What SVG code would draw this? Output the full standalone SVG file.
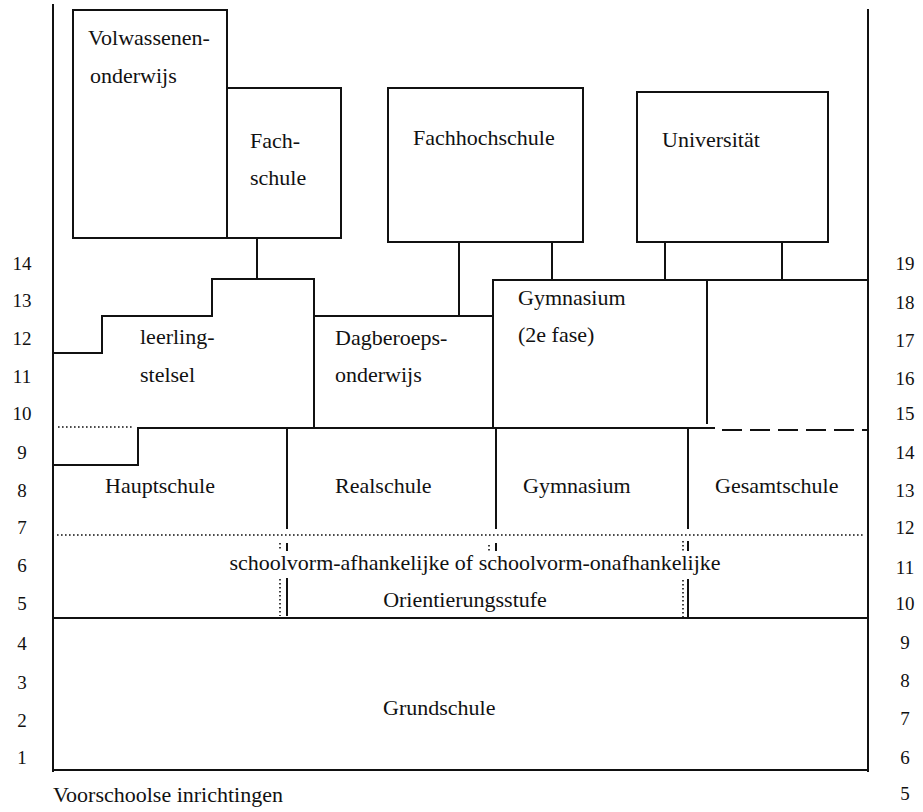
<svg xmlns="http://www.w3.org/2000/svg" width="923" height="812" viewBox="0 0 923 812">
<style>
.l{fill:none;stroke:#111;stroke-width:2;stroke-linecap:square}
.d{fill:none;stroke:#111;stroke-width:1.6;stroke-dasharray:1.6 2.4}
.ds{fill:none;stroke:#111;stroke-width:2;stroke-dasharray:20 8}
text{font-family:"Liberation Serif","Times New Roman",serif;font-size:22px;fill:#111}
.n{font-size:19px;text-anchor:middle}
</style>
<rect width="923" height="812" fill="#fff"/>
<g id="frame">
<line class="l" x1="53" y1="5" x2="53" y2="771"/>
<line class="l" x1="868" y1="10" x2="868" y2="771"/>
</g>
<g id="volwassenenonderwijs">
<rect class="l" x="73" y="10" width="154" height="228"/>
<text x="88" y="45">Volwassenen-</text>
<text x="90" y="83">onderwijs</text>
</g>
<g id="fachschule">
<rect class="l" x="227" y="88" width="114" height="150"/>
<text x="250" y="148">Fach-</text>
<text x="250" y="185">schule</text>
</g>
<g id="fachhochschule">
<rect class="l" x="388" y="88" width="195" height="154"/>
<text x="413" y="145">Fachhochschule</text>
</g>
<g id="universitaet">
<rect class="l" x="637" y="92" width="191" height="150"/>
<text x="662" y="147">Universität</text>
</g>
<g id="leerlingstelsel">
<polyline class="l" points="53,353 102,353 102,316 212,316 212,279 314,279 314,427"/>
<line class="d" x1="58" y1="427" x2="133" y2="427"/>
<text x="140" y="344">leerling-</text>
<text x="140" y="382">stelsel</text>
</g>
<g id="dagberoepsonderwijs">
<line class="l" x1="314" y1="316" x2="493" y2="316"/>
<text x="335" y="345">Dagberoeps-</text>
<text x="335" y="382">onderwijs</text>
</g>
<g id="gymnasium-2e-fase">
<polyline class="l" points="493,427 493,280 868,280"/>
<line class="l" x1="707" y1="281" x2="707" y2="423"/>
<line class="l" x1="138" y1="428" x2="714" y2="428"/>
<line class="ds" x1="722" y1="430" x2="868" y2="430"/>
<text x="518" y="305">Gymnasium</text>
<text x="518" y="342">(2e fase)</text>
</g>
<g id="hauptschule">
<polyline class="l" points="53,465 138,465 138,428"/>
<text x="105" y="493">Hauptschule</text>
</g>
<g id="realschule">
<line class="l" x1="287" y1="428" x2="287" y2="528"/>
<text x="335" y="493">Realschule</text>
</g>
<g id="gymnasium">
<line class="l" x1="496" y1="428" x2="496" y2="528"/>
<text x="523" y="493">Gymnasium</text>
</g>
<g id="gesamtschule">
<line class="l" x1="688" y1="430" x2="688" y2="528"/>
<text x="715" y="493">Gesamtschule</text>
</g>
<g id="orientierungsstufe">
<line class="d" x1="57" y1="535" x2="865" y2="535"/>
<line class="d" x1="280" y1="543" x2="280" y2="551"/>
<line class="l" x1="287" y1="544" x2="287" y2="550"/>
<line class="d" x1="280" y1="579" x2="280" y2="616"/>
<line class="l" x1="287" y1="579" x2="287" y2="615"/>
<line class="d" x1="489" y1="545" x2="489" y2="551"/>
<line class="l" x1="496" y1="544" x2="496" y2="550"/>
<line class="d" x1="683" y1="541" x2="683" y2="551"/>
<line class="l" x1="688" y1="542" x2="688" y2="550"/>
<line class="d" x1="683" y1="580" x2="683" y2="617"/>
<line class="l" x1="688" y1="580" x2="688" y2="616"/>
<text x="475" y="570" text-anchor="middle">schoolvorm-afhankelijke of schoolvorm-onafhankelijke</text>
<text x="465" y="607" text-anchor="middle">Orientierungsstufe</text>
</g>
<g id="grundschule">
<rect class="l" x="53" y="618" width="815" height="152"/>
<text x="383" y="715">Grundschule</text>
</g>
<g id="voorschoolse">
<text x="53" y="802">Voorschoolse inrichtingen</text>
</g>
<g id="connectors">
<line class="l" x1="257" y1="238" x2="257" y2="279"/>
<line class="l" x1="459" y1="242" x2="459" y2="316"/>
<line class="l" x1="552" y1="242" x2="552" y2="280"/>
<line class="l" x1="665" y1="242" x2="665" y2="280"/>
<line class="l" x1="782" y1="242" x2="782" y2="280"/>
</g>
<g id="age-scale">
<text class="n" x="22" y="270">14</text>
<text class="n" x="22" y="307">13</text>
<text class="n" x="22" y="345">12</text>
<text class="n" x="22" y="383">11</text>
<text class="n" x="22" y="420">10</text>
<text class="n" x="22" y="459">9</text>
<text class="n" x="22" y="497">8</text>
<text class="n" x="22" y="534">7</text>
<text class="n" x="22" y="572">6</text>
<text class="n" x="22" y="610">5</text>
<text class="n" x="22" y="650">4</text>
<text class="n" x="22" y="689">3</text>
<text class="n" x="22" y="727">2</text>
<text class="n" x="22" y="764">1</text>
</g>
<g id="year-scale">
<text class="n" x="905" y="270">19</text>
<text class="n" x="905" y="309">18</text>
<text class="n" x="905" y="347">17</text>
<text class="n" x="905" y="385">16</text>
<text class="n" x="905" y="420">15</text>
<text class="n" x="905" y="459">14</text>
<text class="n" x="905" y="497">13</text>
<text class="n" x="905" y="534">12</text>
<text class="n" x="905" y="574">11</text>
<text class="n" x="905" y="610">10</text>
<text class="n" x="905" y="649">9</text>
<text class="n" x="905" y="687">8</text>
<text class="n" x="905" y="725">7</text>
<text class="n" x="905" y="764">6</text>
<text class="n" x="905" y="800">5</text>
</g>
</svg>
